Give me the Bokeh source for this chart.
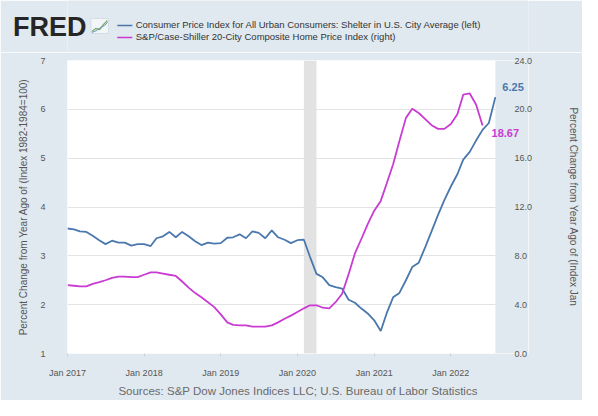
import pandas as pd
from bokeh.plotting import figure
from bokeh.layouts import column
from bokeh.models import (Range1d, LinearAxis, FixedTicker, BoxAnnotation, Label, Title,
                          ColumnDataSource, NumeralTickFormatter, DatetimeTickFormatter)
from bokeh.embed import file_html
from bokeh.resources import INLINE

# ---------------- data ----------------
start_month = "2017-01-01"
# CPI: Shelter, percent change from year ago (left axis), Jan 2017 - Aug 2022
cpi_shelter = [
    3.56, 3.54, 3.50, 3.49, 3.41, 3.32, 3.24, 3.31, 3.27, 3.27, 3.21, 3.24,
    3.24, 3.20, 3.36, 3.40, 3.49, 3.38, 3.49, 3.40, 3.30, 3.22, 3.27, 3.25,
    3.26, 3.37, 3.38, 3.44, 3.36, 3.50, 3.47, 3.36, 3.52, 3.38, 3.33, 3.26,
    3.32, 3.33, 2.98, 2.63, 2.56, 2.40, 2.36, 2.33, 2.10, 2.04, 1.92, 1.82,
    1.68, 1.46, 1.82, 2.15, 2.24, 2.50, 2.77, 2.86, 3.18, 3.50, 3.84, 4.14,
    4.42, 4.67, 4.97, 5.13, 5.36, 5.58, 5.72, 6.25,
]
# S&P/Case-Shiller 20-City, percent change from year ago (right axis), Jan 2017 - Jun 2022
case_shiller = [
    5.6, 5.55, 5.5, 5.5, 5.7, 5.85, 6.0, 6.2, 6.3, 6.3, 6.25, 6.25,
    6.45, 6.65, 6.65, 6.55, 6.45, 6.35, 5.9, 5.4, 4.95, 4.6, 4.2, 3.8,
    3.2, 2.55, 2.35, 2.3, 2.3, 2.2, 2.2, 2.2, 2.3, 2.55, 2.85, 3.1,
    3.4, 3.7, 3.95, 3.95, 3.75, 3.7, 4.2, 4.9, 6.5, 8.2, 9.4, 10.6,
    11.7, 12.5, 13.9, 15.5, 17.4, 19.3, 20.05, 19.7, 19.2, 18.7, 18.4, 18.4,
    18.8, 19.6, 21.2, 21.3, 20.4, 18.67,
]
cpi_label = "6.25"
cs_label = "18.67"
left_ticks = [1, 2, 3, 4, 5, 6, 7]
right_ticks = [0, 4, 8, 12, 16, 20, 24]
year_ticks = ["2017-01-01", "2018-01-01", "2019-01-01", "2020-01-01", "2021-01-01", "2022-01-01"]
recession = ("2020-02-01", "2020-04-01")
x_span = ("2017-01-01", "2022-08-01")

series1_name = "Consumer Price Index for All Urban Consumers: Shelter in U.S. City Average (left)"
series2_name = "S&P/Case-Shiller 20-City Composite Home Price Index (right)"
left_title = "Percent Change from Year Ago of (Index 1982-1984=100)"
right_title = "Percent Change from Year Ago of (Index Jan"
source_text = "Sources: S&P Dow Jones Indices LLC; U.S. Bureau of Labor Statistics"
brand = "FRED"

# ---------------- styling / layout ----------------
BG = "#e1e9f0"
BLUE = "#4a78ad"
MAGENTA = "#c93bd3"
FONT = "Liberation Sans"
TXT = "#555555"

W = 582
HDR_H = 52
MAIN_H = 400 - HDR_H
PLOT_L, PLOT_R = 67, 506          # white plotting area (pixels)
FRAME_R = 540                     # frame extended so end labels are not clipped
ML, MR, MT, MB = PLOT_L, W - FRAME_R, 8, 47

# ---------------- header (same side borders as main plot) ----------------
hdr = figure(width=W, height=HDR_H, output_backend="svg", toolbar_location=None,
             x_range=Range1d(PLOT_L, FRAME_R), y_range=Range1d(HDR_H, 0),
             x_axis_location=None,
             min_border_left=ML, min_border_right=MR, min_border_top=0, min_border_bottom=0)
hdr.background_fill_color = BG
hdr.border_fill_color = BG
hdr.outline_line_color = None
hdr.xgrid.grid_line_color = None
hdr.ygrid.grid_line_color = None
brand_y = 26
ha = hdr.yaxis[0]
ha.ticker = FixedTicker(ticks=[brand_y])
ha.major_label_overrides = {brand_y: brand}
ha.major_label_text_font = FONT
ha.major_label_text_font_size = "27px"
ha.major_label_text_font_style = "bold"
ha.major_label_text_color = "#262626"
ha.major_label_standoff = PLOT_L - 92
ha.axis_line_color = None
ha.major_tick_line_color = None
ha.minor_tick_line_color = None

# small logo thumbnail next to the brand
hdr.quad(left=[91], right=[109], top=[18], bottom=[33], fill_color="#f3f6f8",
         line_color="#cfd8e0", line_width=0.8)
hdr.line([92, 96, 100, 104, 108], [31, 28, 29, 24, 20], line_color="#7fb069", line_width=1.3)
hdr.line([92, 97, 101, 105, 108], [32, 30, 27, 25, 22], line_color="#6d95c7", line_width=1.0)


def hlabel(x, y, text, **kw):
    hdr.add_layout(Label(x=x, y=y, text=text, text_font=FONT, text_baseline="middle", **kw))


hlabel(118, 24, "\u2014", text_font_style="bold", text_font_size="15px", text_color=BLUE)
hlabel(118, 36, "\u2014", text_font_style="bold", text_font_size="15px", text_color=MAGENTA)
hlabel(137, 24, series1_name, text_font_size="9.5px", text_color="#333333")
hlabel(137, 36, series2_name, text_font_size="9.5px", text_color="#333333")

# ---------------- main plot ----------------
cpi_src = ColumnDataSource(dict(
    date=pd.date_range(start_month, periods=len(cpi_shelter), freq="MS"), v=cpi_shelter))
cs_src = ColumnDataSource(dict(
    date=pd.date_range(start_month, periods=len(case_shiller), freq="MS"), v=case_shiller))

x0, x1 = pd.Timestamp(x_span[0]), pd.Timestamp(x_span[1])
px_per_day = (PLOT_R - PLOT_L) / (x1 - x0).days
x_end = x1 + pd.Timedelta(days=(FRAME_R - PLOT_R) / px_per_day)

p = figure(width=W, height=MAIN_H, x_axis_type="datetime", output_backend="svg",
           toolbar_location=None,
           x_range=Range1d(x0, x_end),
           y_range=Range1d(left_ticks[0], left_ticks[-1]),
           min_border_left=ML, min_border_right=MR, min_border_top=MT, min_border_bottom=MB)
p.background_fill_color = "white"
p.border_fill_color = BG
p.outline_line_color = None
p.extra_y_ranges = {"r": Range1d(right_ticks[0], right_ticks[-1])}

# grid
p.xgrid.grid_line_color = None
p.ygrid.grid_line_color = "#e3e3e3"
p.ygrid.grid_line_width = 1

# area right of the last date painted as page background
p.add_layout(BoxAnnotation(left=x1, fill_color=BG, fill_alpha=1.0, line_color=None,
                           level="underlay"))
# recession shading
p.add_layout(BoxAnnotation(left=pd.Timestamp(recession[0]), right=pd.Timestamp(recession[1]),
                           fill_color="#e2e2e2", fill_alpha=1.0, line_color=None, level="underlay"))

# x axis
xa = p.xaxis[0]
xa.ticker = FixedTicker(ticks=[pd.Timestamp(t).value // 10**6 for t in year_ticks])
xa.formatter = DatetimeTickFormatter(years="%b %Y", months="%b %Y", days="%b %Y")
xa.axis_line_color = None
xa.major_tick_line_color = "#d0d0d0"
xa.major_tick_out = 3
xa.major_tick_in = 0
xa.minor_tick_line_color = None
xa.major_label_standoff = 11
xa.major_label_text_font = FONT
xa.major_label_text_font_size = "9px"
xa.major_label_text_color = TXT

# left axis
ya = p.yaxis[0]
ya.ticker = FixedTicker(ticks=left_ticks)
ya.axis_line_color = None
ya.major_tick_line_color = None
ya.minor_tick_line_color = None
ya.major_label_standoff = 16
ya.major_label_text_font = FONT
ya.major_label_text_font_size = "9px"
ya.major_label_text_color = TXT
ya.axis_label = left_title
ya.axis_label_text_font = FONT
ya.axis_label_text_font_size = "10px"
ya.axis_label_text_font_style = "normal"
ya.axis_label_text_color = TXT
ya.axis_label_standoff = 8

# right axis (tick labels pulled back next to the white area)
ra = LinearAxis(y_range_name="r", ticker=FixedTicker(ticks=right_ticks),
                formatter=NumeralTickFormatter(format="0.0"))
ra.axis_line_color = None
ra.major_tick_line_color = None
ra.minor_tick_line_color = None
ra.major_label_standoff = (PLOT_R + 14) - FRAME_R
ra.major_label_text_font = FONT
ra.major_label_text_font_size = "9px"
ra.major_label_text_color = TXT
ra.axis_label = right_title
ra.axis_label_text_font = FONT
ra.axis_label_text_font_size = "10px"
ra.axis_label_text_font_style = "normal"
ra.axis_label_text_color = TXT
ra.axis_label_standoff = 33
p.add_layout(ra, "right")

# series
p.line("date", "v", source=cpi_src, color=BLUE, line_width=1.8)
p.line("date", "v", source=cs_src, color=MAGENTA, line_width=1.8, y_range_name="r")

# end-value labels
p.add_layout(Label(x=cpi_src.data["date"][-1], y=cpi_shelter[-1], text=cpi_label,
                   x_offset=7, y_offset=10, text_color=BLUE, text_font=FONT,
                   text_font_size="11px", text_font_style="bold", text_baseline="middle"))
p.add_layout(Label(x=cs_src.data["date"][-1], y=case_shiller[-1], y_range_name="r", text=cs_label,
                   x_offset=9, y_offset=-7, text_color=MAGENTA, text_font=FONT,
                   text_font_size="11px", text_font_style="bold", text_baseline="middle"))

# source footer
p.add_layout(Title(text=source_text, align="center", text_font=FONT, text_font_size="11.5px",
                   text_font_style="normal", text_color="#6a6a6a", standoff=4), "below")

layout = column(hdr, p, spacing=0)
open("out.html", "w").write(file_html(layout, INLINE))
